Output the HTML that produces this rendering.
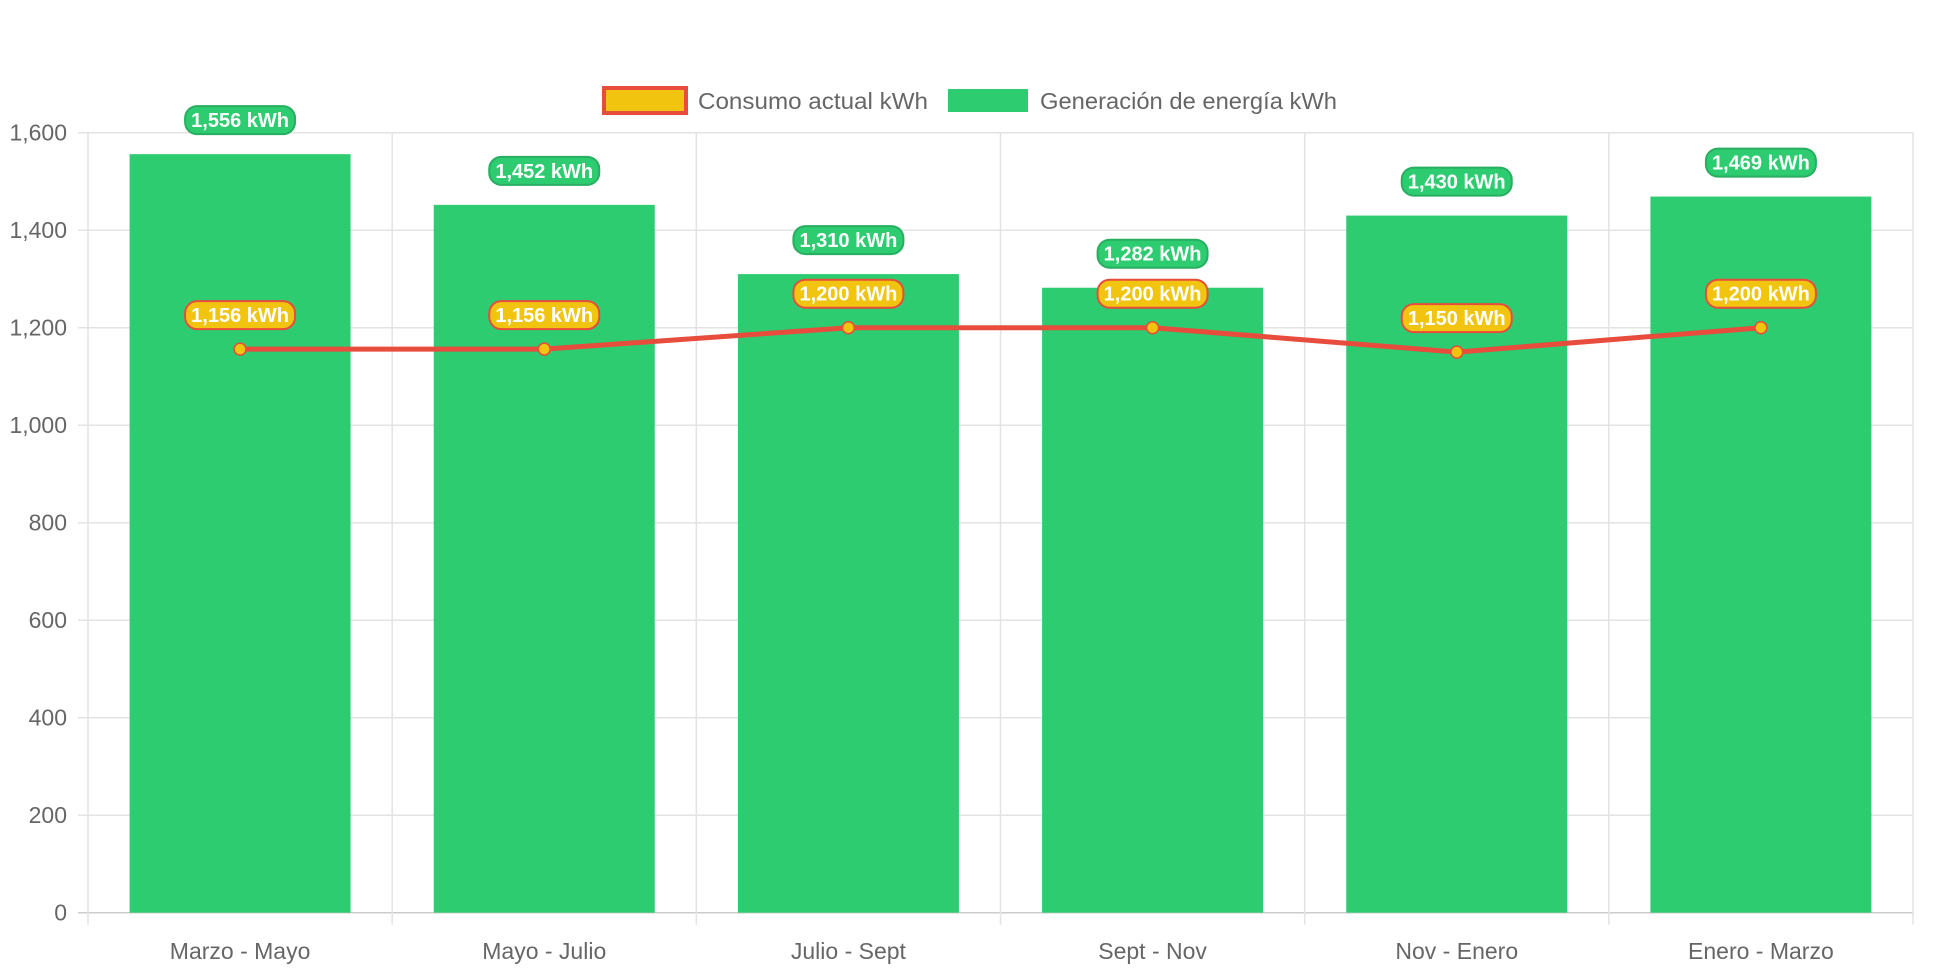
<!DOCTYPE html>
<html><head><meta charset="utf-8"><style>
body{margin:0;background:#fff;font-family:"Liberation Sans",Arial,sans-serif}
svg{display:block}
</style></head><body>
<svg id="chart" width="1942" height="970" xmlns="http://www.w3.org/2000/svg">
<g>
<g>
<rect x="604" y="88" width="82" height="25" fill="#f1c40f" stroke="#e74c3c" stroke-width="4"/>
<text x="698" y="109" font-size="23" fill="#666" textLength="230" lengthAdjust="spacingAndGlyphs">Consumo actual kWh</text>
</g>
<g>
<rect x="948" y="89" width="80" height="23" fill="#2ecc71"/>
<text x="1040" y="109" font-size="23" fill="#666" textLength="297" lengthAdjust="spacingAndGlyphs">Generación de energía kWh</text>
</g>
</g>
<g id="grid"></g>
<g id="bars"></g>
<g id="line"></g>
<g id="labels"></g>
</svg>
<script>
const categories=["Marzo - Mayo","Mayo - Julio","Julio - Sept","Sept - Nov","Nov - Enero","Enero - Marzo"];
const generacion=[1556,1452,1310,1282,1430,1469];
const consumo=[1156,1156,1200,1200,1150,1200];
const yTicks=[0,200,400,600,800,1000,1200,1400,1600];
const NS="http://www.w3.org/2000/svg";
const L=88,R=1913,T=132.7,B=912.7,YMAX=1600;
const cw=(R-L)/categories.length;
const y=v=>B-(v/YMAX)*(B-T);
const xc=i=>L+cw*(i+0.5);
function mk(tag,attrs,parent){const e=document.createElementNS(NS,tag);for(const k in attrs)e.setAttribute(k,attrs[k]);parent.appendChild(e);return e;}
const grid=document.getElementById('grid');
yTicks.forEach(t=>{
 const l=mk('line',{x1:L-10,x2:R,y1:y(t),y2:y(t),stroke:t===0?'#ccc':'#e3e3e3','stroke-width':1.5},grid);
 
 
 const tx=mk('text',{x:L-21,y:y(t)+8,'text-anchor':'end','font-size':23,fill:'#666'},grid);
 tx.textContent=t.toLocaleString('en-US');
 
 
});
for(let i=0;i<=categories.length;i++){
 const x=L+cw*i;
 const l=mk('line',{x1:x,x2:x,y1:T,y2:B+12,stroke:'#e3e3e3','stroke-width':1.5},grid);
 
 
}
categories.forEach((c,i)=>{
 const tx=mk('text',{x:xc(i),y:959,'text-anchor':'middle','font-size':23,fill:'#666'},grid);
 tx.textContent=c;
 
 
});
const bars=document.getElementById('bars');
const bw=221;
generacion.forEach((v,i)=>{
 const r=mk('rect',{x:xc(i)-bw/2,y:y(v),width:bw,height:B-y(v),fill:'#2ecc71'},bars);
 
 
});
const line=document.getElementById('line');
const p=mk('polyline',{points:consumo.map((v,i)=>xc(i)+','+y(v)).join(' '),fill:'none',stroke:'#e74c3c','stroke-width':5,'stroke-linejoin':'round'},line);


consumo.forEach((v,i)=>{
 const c=mk('circle',{cx:xc(i),cy:y(v),r:6,fill:'#f1c40f',stroke:'#e74c3c','stroke-width':1.5},line);
 
 
});
const labels=document.getElementById('labels');
function pill(cx,cy,txt,fill,stroke,name){
 const g=mk('g',{},labels);
 
 
 mk('rect',{x:cx-55,y:cy-14,width:110,height:28,rx:12,fill:fill,stroke:stroke,'stroke-width':2},g);
 const t=mk('text',{x:cx,y:cy+7,'text-anchor':'middle','font-size':20,'font-weight':'bold',fill:'#fff'},g);
 t.textContent=txt;
}
generacion.forEach((v,i)=>pill(xc(i),y(v)-34,v.toLocaleString('en-US')+' kWh','#2ecc71','#27ae60','generacion-label-'+(i+1)));
consumo.forEach((v,i)=>pill(xc(i),y(v)-34,v.toLocaleString('en-US')+' kWh','#f1c40f','#e74c3c','consumo-label-'+(i+1)));
</script>
</body></html>
